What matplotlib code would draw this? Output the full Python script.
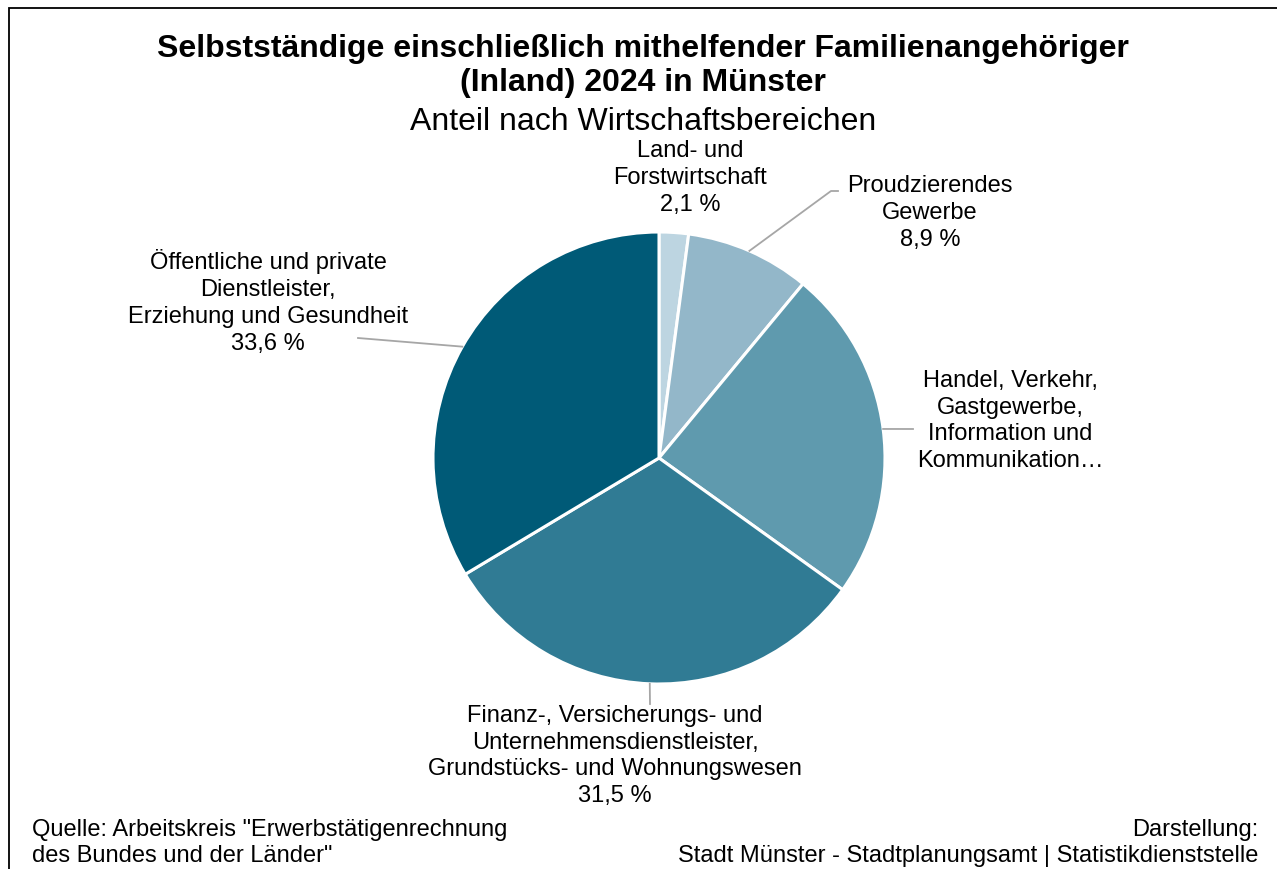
import numpy as np
import matplotlib.pyplot as plt
from matplotlib.patches import Rectangle

plt.rcParams['font.family'] = ['Liberation Sans', 'DejaVu Sans']

# Daten
kategorien = [
    "Land- und\nForstwirtschaft",
    "Proudzierendes\nGewerbe",
    "Handel, Verkehr,\nGastgewerbe,\nInformation und\nKommunikation\u2026",
    "Finanz-, Versicherungs- und\nUnternehmensdienstleister,\nGrundstücks- und Wohnungswesen",
    "Öffentliche und private\nDienstleister,\nErziehung und Gesundheit",
]
anteile = [2.1, 8.9, 23.9, 31.5, 33.6]
zeige_wert = [True, True, False, True, True]
farben = ["#BDD5E1", "#93B7C9", "#5F9AAE", "#307B94", "#005A77"]

W, H = 1277, 870
CX, CY, R = 659, 459, 226

fig = plt.figure(figsize=(W / 100, H / 100), dpi=100)

# Rahmen (rechts/unten abgeschnitten)
fig.add_artist(Rectangle((9 / W, -0.05), 1.2, 1 - 9 / H + 0.05, transform=fig.transFigure,
                         fill=False, edgecolor="black", linewidth=1.3))

ax = fig.add_axes([(CX - R) / W, (H - CY - R) / H, 2 * R / W, 2 * R / H])
ax.pie(anteile, colors=farben, startangle=90, counterclock=False, radius=1,
       wedgeprops=dict(edgecolor="white", linewidth=2.2))
ax.set_xlim(-1, 1)
ax.set_ylim(-1, 1)
ax.set_aspect("equal")
ax.axis("off")


def px(x, y):
    return (x - CX) / R, (CY - y) / R


# Beschriftungspositionen (Pixel) und Knickpunkte der Führungslinien
text_pos = [(690, 178), (930, 213), (1010, 421), (615, 756), (268, 302)]
knick = [None, [(831, 192), (838, 192)], [(913, 430)], [(650, 705)], [(358, 339)]]

winkel = 90 - (np.cumsum(anteile) - np.array(anteile) / 2) / sum(anteile) * 360
for i, (kat, wert) in enumerate(zip(kategorien, anteile)):
    txt = kat + (f"\n{wert:.1f} %".replace(".", ",") if zeige_wert[i] else "")
    tx, ty = px(*text_pos[i])
    ax.text(tx, ty, txt, ha="center", va="center", fontsize=17, linespacing=1.28,
            clip_on=False)
    if knick[i]:
        a = np.deg2rad(winkel[i])
        xs = [np.cos(a)] + [px(*p)[0] for p in knick[i]]
        ys = [np.sin(a)] + [px(*p)[1] for p in knick[i]]
        ax.plot(xs, ys, color="#A6A6A6", linewidth=1.3, clip_on=False)

fig.text(643 / W, 1 - 49 / H, "Selbstständige einschließlich mithelfender Familienangehöriger",
         ha="center", va="center", fontsize=23, fontweight="bold")
fig.text(643 / W, 1 - 83 / H, "(Inland) 2024 in Münster",
         ha="center", va="center", fontsize=23, fontweight="bold")
fig.text(643 / W, 1 - 122 / H, "Anteil nach Wirtschaftsbereichen",
         ha="center", va="center", fontsize=23)

fig.text(32 / W, 1 - 843 / H, 'Quelle: Arbeitskreis "Erwerbstätigenrechnung\ndes Bundes und der Länder"',
         ha="left", va="center", fontsize=17, linespacing=1.28)
fig.text(1258 / W, 1 - 843 / H, "Darstellung:\nStadt Münster - Stadtplanungsamt | Statistikdienststelle",
         ha="right", va="center", fontsize=17, linespacing=1.28, multialignment="right")

fig.savefig("out.png", dpi=100)
